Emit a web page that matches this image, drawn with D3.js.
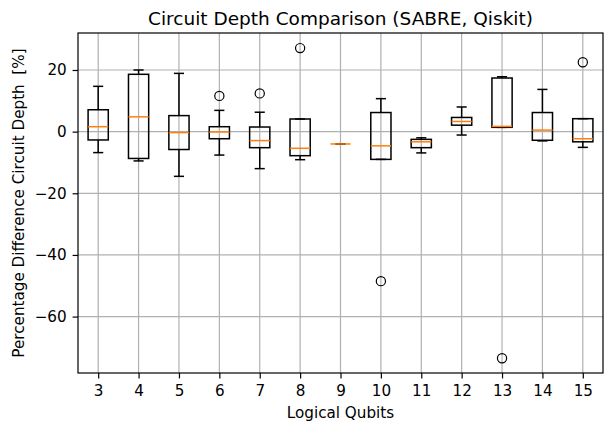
<!DOCTYPE html>
<html>
<head>
<meta charset="utf-8">
<script src="https://cdn.jsdelivr.net/npm/d3@7"></script>
<style>
  body { margin: 0; background: #fff; }
  text { font-family: "DejaVu Sans", sans-serif; }
</style>
</head>
<body>
<div id="content"></div>
<script>
// box stats per number of logical qubits
var qubits      = [3, 4, 5, 6, 7, 8, 9, 10, 11, 12, 13, 14, 15];
var whiskerLow  = [-6.8, -9.5, -14.5, -7.6, -12.0, -9.1, -4.0, -9.0, -6.9, -1.1, 1.4, -3.0, -5.1];
var q1          = [-2.7, -8.7, -5.8, -2.3, -5.2, -7.8, -4.0, -9.0, -5.2, 2.1, 1.4, -2.8, -3.3];
var medians     = [1.6, 4.8, -0.3, -0.1, -2.9, -5.4, -4.0, -4.6, -3.3, 3.3, 1.7, 0.5, -2.3];
var q3          = [7.1, 18.6, 5.2, 1.6, 1.5, 4.1, -4.0, 6.2, -2.5, 4.6, 17.4, 6.2, 4.2];
var whiskerHigh = [14.7, 20.0, 18.9, 6.9, 6.3, 4.1, -4.0, 10.7, -2.0, 8.0, 17.8, 13.7, 4.2];
var outliers    = [[], [], [], [11.6], [12.4], [27.1], [], [-48.5], [], [], [-73.5], [], [22.5]];
var yTicks      = [-60, -40, -20, 0, 20];

function render() {
  var margin = { top: 33, right: 4, bottom: 48, left: 78 },
    width = 607 - margin.left - margin.right,
    height = 421 - margin.top - margin.bottom;

  var svg = d3.select("div#content").append("svg")
    .attr("width", 607)
    .attr("height", 421)
    .append("g")
    .attr("transform", "translate(" + margin.left + "," + margin.top + ")");

  var x = d3.scaleLinear().domain([2.5, 15.5]).range([0, width]);
  var y = d3.scaleLinear().domain([-78.3, 32.0]).range([height, 0]);
  var boxW = x(3.5) - x(3);     // 0.5 units wide
  var capW = boxW / 2;

  // grid
  svg.append("g").selectAll("line.vg")
    .data(qubits)
    .enter().append("line")
    .attr("x1", function(d) { return x(d); })
    .attr("x2", function(d) { return x(d); })
    .attr("y1", 0)
    .attr("y2", height)
    .attr("stroke", "#b0b0b0")
    .attr("stroke-width", 1.2);

  svg.append("g").selectAll("line.hg")
    .data(yTicks)
    .enter().append("line")
    .attr("x1", 0)
    .attr("x2", width)
    .attr("y1", function(d) { return y(d); })
    .attr("y2", function(d) { return y(d); })
    .attr("stroke", "#b0b0b0")
    .attr("stroke-width", 1.2);

  // axes
  var xAxis = svg.append("g")
    .attr("transform", "translate(0," + height + ")")
    .call(d3.axisBottom(x).tickValues(qubits).tickFormat(d3.format("d")).tickSize(5.4).tickPadding(7));

  var yAxis = svg.append("g")
    .call(d3.axisLeft(y).tickValues(yTicks).tickFormat(function(d) { return d < 0 ? "\u2212" + (-d) : d; }).tickSize(5.4).tickPadding(5.9));

  [xAxis, yAxis].forEach(function(a) {
    a.select(".domain").remove();
    a.selectAll("line").attr("stroke", "#000").attr("stroke-width", 1.2);
    a.selectAll("text").attr("fill", "#000").style("font-size", "15.2px").style("font-family", "DejaVu Sans");
  });

  svg.append("rect")
    .attr("width", width)
    .attr("height", height)
    .attr("fill", "none")
    .attr("stroke", "#000")
    .attr("stroke-width", 1.2);

  // boxes
  var data = qubits.map(function(q, i) {
    return { q: q, lo: whiskerLow[i], q1: q1[i], med: medians[i], q3: q3[i], hi: whiskerHigh[i], out: outliers[i] };
  });

  var g = svg.selectAll(".box")
    .data(data)
    .enter().append("g")
    .attr("class", "box");

  g.append("line")
    .attr("x1", function(d) { return x(d.q); })
    .attr("x2", function(d) { return x(d.q); })
    .attr("y1", function(d) { return y(d.q3); })
    .attr("y2", function(d) { return y(d.hi); })
    .attr("stroke", "#000").attr("stroke-width", 1.5);

  g.append("line")
    .attr("x1", function(d) { return x(d.q); })
    .attr("x2", function(d) { return x(d.q); })
    .attr("y1", function(d) { return y(d.q1); })
    .attr("y2", function(d) { return y(d.lo); })
    .attr("stroke", "#000").attr("stroke-width", 1.5);

  g.selectAll(".cap")
    .data(function(d) { return [{ q: d.q, v: d.hi }, { q: d.q, v: d.lo }]; })
    .enter().append("line")
    .attr("x1", function(d) { return x(d.q) - capW / 2; })
    .attr("x2", function(d) { return x(d.q) + capW / 2; })
    .attr("y1", function(d) { return y(d.v); })
    .attr("y2", function(d) { return y(d.v); })
    .attr("stroke", "#000").attr("stroke-width", 1.5);

  g.append("rect")
    .attr("x", function(d) { return x(d.q) - boxW / 2; })
    .attr("y", function(d) { return y(d.q3); })
    .attr("width", boxW)
    .attr("height", function(d) { return y(d.q1) - y(d.q3); })
    .attr("fill", "none")
    .attr("stroke", "#000").attr("stroke-width", 1.5);

  g.append("line")
    .attr("x1", function(d) { return x(d.q) - boxW / 2; })
    .attr("x2", function(d) { return x(d.q) + boxW / 2; })
    .attr("y1", function(d) { return y(d.med); })
    .attr("y2", function(d) { return y(d.med); })
    .attr("stroke", "#ff7f0e").attr("stroke-width", 1.5);

  g.selectAll(".flier")
    .data(function(d) { return d.out.map(function(v) { return { q: d.q, v: v }; }); })
    .enter().append("circle")
    .attr("cx", function(d) { return x(d.q); })
    .attr("cy", function(d) { return y(d.v); })
    .attr("r", 4.6)
    .attr("fill", "none")
    .attr("stroke", "#000").attr("stroke-width", 1.2);

  // labels
  svg.append("text")
    .attr("x", width / 2)
    .attr("y", -8.3)
    .attr("text-anchor", "middle")
    .style("font-size", "18.5px")
    .text("Circuit Depth Comparison (SABRE, Qiskit)");

  svg.append("text")
    .attr("x", width / 2)
    .attr("y", height + 44.5)
    .attr("text-anchor", "middle")
    .style("font-size", "15.2px")
    .text("Logical Qubits");

  svg.append("text")
    .attr("transform", "translate(" + (24 - margin.left) + "," + (height / 2) + ") rotate(-90)")
    .attr("text-anchor", "middle")
    .style("font-size", "15.2px")
    .style("white-space", "pre")
    .text("Percentage Difference Circuit Depth  [%]");
}

render();
</script>
</body>
</html>
